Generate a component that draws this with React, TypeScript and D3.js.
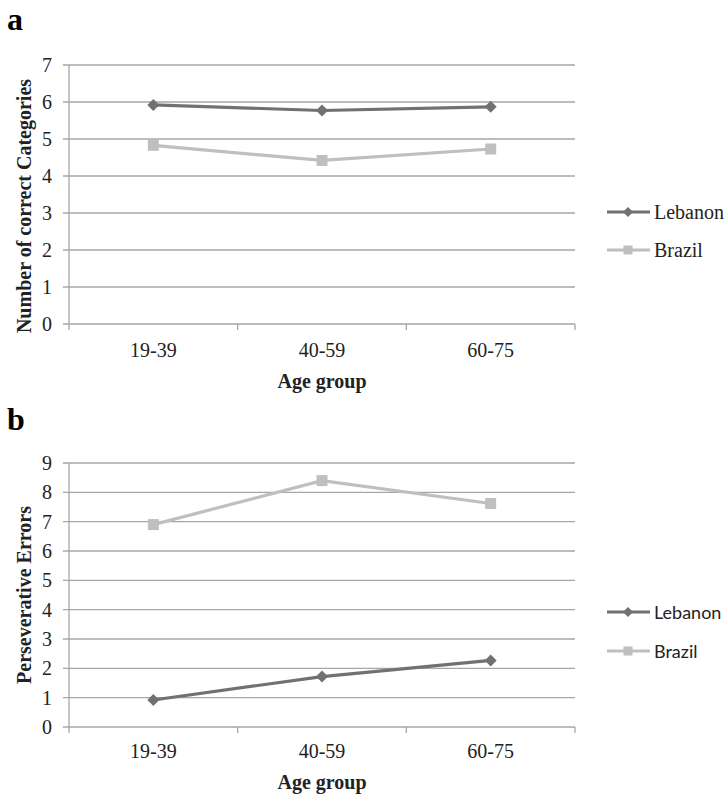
import React, { useEffect, useRef } from 'react';
import * as d3 from 'd3';

const ageGroups = ['19-39', '40-59', '60-75'];
const seriesNames = ['Lebanon', 'Brazil'];

// panel a: number of correct categories
const categoriesLebanon = [5.92, 5.77, 5.87];
const categoriesBrazil = [4.83, 4.42, 4.73];
const categoryTicks = [0, 1, 2, 3, 4, 5, 6, 7];

// panel b: perseverative errors
const errorsLebanon = [0.92, 1.72, 2.27];
const errorsBrazil = [6.9, 8.4, 7.62];
const errorTicks = [0, 1, 2, 3, 4, 5, 6, 7, 8, 9];

const colors = ['#717171', '#bfbfbf'];
const gridColor = '#a6a6a6';
const serifFont = 'Liberation Serif, Times New Roman, serif';
const sansFont = 'Lato, Liberation Sans, sans-serif';

const panels = [
  {
    letter: 'a',
    letterY: 30,
    top: 65,
    bottom: 324,
    ticks: categoryTicks,
    yTitle: 'Number of correct Categories',
    yTitleCenter: 206,
    series: [categoriesLebanon, categoriesBrazil],
    legendY: [212, 250],
    legendFont: serifFont,
    legendSize: 20,
    tickLabelY: 357,
    xTitleY: 388,
  },
  {
    letter: 'b',
    letterY: 430,
    top: 463,
    bottom: 727,
    ticks: errorTicks,
    yTitle: 'Perseverative Errors',
    yTitleCenter: 595,
    series: [errorsLebanon, errorsBrazil],
    legendY: [612, 651],
    legendFont: sansFont,
    legendSize: 18,
    tickLabelY: 758,
    xTitleY: 789,
  },
];

const left = 69;
const right = 575;

function drawMarker(g, i, cx, cy, size) {
  if (i === 0) {
    const h = size / 2;
    g.append('path')
      .attr('d', `M${cx},${cy - h}L${cx + h},${cy}L${cx},${cy + h}L${cx - h},${cy}Z`)
      .attr('fill', colors[i]);
  } else {
    g.append('rect')
      .attr('x', cx - size / 2)
      .attr('y', cy - size / 2)
      .attr('width', size)
      .attr('height', size)
      .attr('fill', colors[i]);
  }
}

export default function App() {
  const ref = useRef<SVGSVGElement>(null);

  useEffect(() => {
    const svg = d3.select(ref.current);
    svg.selectAll('*').remove();

    const x = d3.scaleBand().domain(ageGroups).range([left, right]).padding(0);
    const bounds = ageGroups.map((d) => x(d)).concat([right]);

    panels.forEach((p) => {
      const g = svg.append('g');
      const yMax = p.ticks[p.ticks.length - 1];
      const y = d3.scaleLinear().domain([0, yMax]).range([p.bottom, p.top]);

      g.append('text')
        .attr('x', 7)
        .attr('y', p.letterY)
        .style('font-family', serifFont)
        .style('font-weight', 'bold')
        .style('font-size', '32px')
        .text(p.letter);

      // gridlines + y tick labels
      p.ticks.forEach((t) => {
        g.append('line')
          .attr('x1', left - 6)
          .attr('x2', right)
          .attr('y1', y(t))
          .attr('y2', y(t))
          .attr('stroke', gridColor)
          .attr('stroke-width', 1.3);
        g.append('text')
          .attr('x', 52)
          .attr('y', y(t) + 7)
          .attr('text-anchor', 'end')
          .style('font-family', serifFont)
          .style('font-size', '20px')
          .attr('fill', '#222')
          .text(t);
      });

      // axes
      g.append('line')
        .attr('x1', left).attr('x2', left)
        .attr('y1', p.top).attr('y2', p.bottom)
        .attr('stroke', gridColor).attr('stroke-width', 1.3);
      bounds.forEach((b) => {
        g.append('line')
          .attr('x1', b).attr('x2', b)
          .attr('y1', p.bottom).attr('y2', p.bottom + 6)
          .attr('stroke', gridColor).attr('stroke-width', 1.3);
      });

      ageGroups.forEach((d) => {
        g.append('text')
          .attr('x', x(d) + x.bandwidth() / 2)
          .attr('y', p.tickLabelY)
          .attr('text-anchor', 'middle')
          .style('font-family', serifFont)
          .style('font-size', '20px')
          .attr('fill', '#222')
          .text(d);
      });

      g.append('text')
        .attr('x', (left + right) / 2)
        .attr('y', p.xTitleY)
        .attr('text-anchor', 'middle')
        .style('font-family', serifFont)
        .style('font-weight', 'bold')
        .style('font-size', '20px')
        .attr('fill', '#222')
        .text('Age group');

      g.append('text')
        .attr('transform', `translate(31,${p.yTitleCenter}) rotate(-90)`)
        .attr('text-anchor', 'middle')
        .style('font-family', serifFont)
        .style('font-weight', 'bold')
        .style('font-size', '20px')
        .attr('fill', '#222')
        .text(p.yTitle);

      // series
      const line = d3.line<number>()
        .x((_, i) => x(ageGroups[i]) + x.bandwidth() / 2)
        .y((v) => y(v));

      p.series.forEach((values, i) => {
        g.append('path')
          .attr('d', line(values))
          .attr('fill', 'none')
          .attr('stroke', colors[i])
          .attr('stroke-width', 3.2);
        values.forEach((v, j) => {
          drawMarker(g, i, x(ageGroups[j]) + x.bandwidth() / 2, y(v), i === 0 ? 12 : 11);
        });
      });

      // legend
      seriesNames.forEach((name, i) => {
        const ly = p.legendY[i];
        g.append('line')
          .attr('x1', 607).attr('x2', 650)
          .attr('y1', ly).attr('y2', ly)
          .attr('stroke', colors[i]).attr('stroke-width', 3.2);
        drawMarker(g, i, 628, ly, i === 0 ? 10 : 9);
        g.append('text')
          .attr('x', 654)
          .attr('y', ly + 6.5)
          .style('font-family', p.legendFont)
          .style('font-size', `${p.legendSize}px`)
          .attr('fill', '#222')
          .text(name);
      });
    });
  }, []);

  return (
    <svg
      ref={ref}
      width={728}
      height={796}
      style={{ position: 'absolute', left: 0, top: 0, background: '#fff' }}
    />
  );
}
